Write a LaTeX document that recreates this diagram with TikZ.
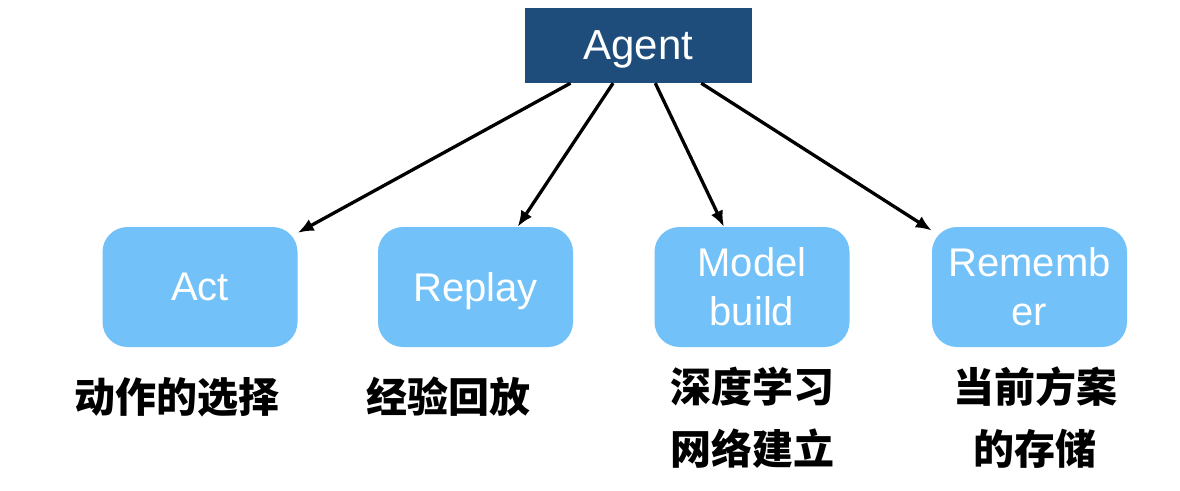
\documentclass[tikz,border=0pt]{standalone}
\usepackage{fontspec}
\setmainfont{Liberation Sans}
\newfontfamily\cjk{Noto Sans CJK SC}
\usetikzlibrary{positioning,arrows.meta}
\definecolor{agentblue}{HTML}{1E4D7B}
\definecolor{stepblue}{HTML}{72C1F8}

\tikzset{
  agentbox/.style={fill=agentblue, text=white, minimum width=227pt, minimum height=75pt, inner sep=0pt, text depth=0pt, font=\fontsize{42}{50}\selectfont},
  stepbox/.style={fill=stepblue, text=white, rounded corners=25pt, minimum width=195pt, minimum height=120pt, inner sep=0pt, text depth=0pt, align=center, font=\fontsize{40}{49}\selectfont},
  cnlabel/.style={align=center, inner sep=0pt, font=\cjk\bfseries\fontsize{41}{62}\selectfont},
  arr/.style={-{Latex[length=16pt,width=13pt]}, line width=3.3pt}
}

\begin{document}
\begin{tikzpicture}[x=1pt,y=-1pt]
\useasboundingbox (0,0) rectangle (1180,490);
\node[agentbox] (agent) at (638.5,45.5) {Agent};
% the four steps
\node[stepbox] (act) at (200,287) {Act};
\node[stepbox] (replay) at (475.5,287) {Replay};
\node[stepbox] (model) at (752,287) {Model\\build};
\node[stepbox] (remember) at (1029.5,287) {Rememb\\er};
% labels below
\node[cnlabel] (actlbl) at (177,397) {动作的选择};
\node[cnlabel] (replaylbl) at (448,397) {经验回放};
\node[cnlabel] (modellbl) at (752,418) {深度学习\\网络建立};
\node[cnlabel] (rememberlbl) at (1035,418) {当前方案\\的存储};
\draw[arr] (agent.-151) -- (act.29);
\draw[arr] (agent.-124) -- (replay.55);
\draw[arr] (agent.-66) -- (model.115);
\draw[arr] (agent.-31) -- (remember.150);
\end{tikzpicture}
\end{document}
